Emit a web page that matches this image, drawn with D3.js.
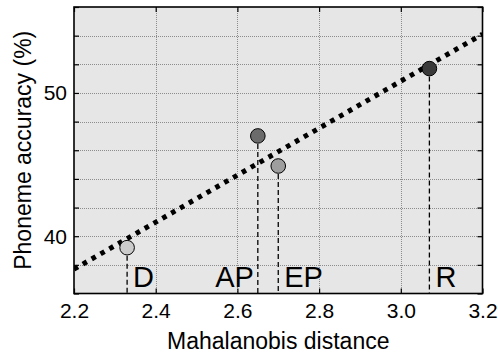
<!DOCTYPE html>
<html>
<head>
<meta charset="utf-8">
<script src="https://cdn.jsdelivr.net/npm/d3@7"></script>
<style>
  html, body { margin: 0; padding: 0; background: #fff; }
  svg { display: block; }
  text { font-family: "Liberation Sans", Arial, Helvetica, sans-serif; fill: #000; }
</style>
</head>
<body>
<svg id="chart" width="498" height="353"></svg>
<script>
// Conditions and their measured values
const conditions = ["D", "AP", "EP", "R"];
const mahalanobis = [2.33, 2.65, 2.70, 3.07];
const accuracy = [39.2, 47.0, 44.9, 51.7];
const markerFill = ["#cbcbcb", "#6b6b6b", "#9e9e9e", "#3a3a3a"];

// Least-squares trend line, given by its two end points
const trendX = [2.2, 3.2];
const trendY = [37.7, 54.1];

// Axis ticks
const xTicks = [2.2, 2.4, 2.6, 2.8, 3.0, 3.2];
const yTicks = [36, 38, 40, 42, 44, 46, 48, 50, 52, 54, 56];
const yLabelled = [40, 50];

const svg = d3.select("#chart");
const plotLeft = 74, plotRight = 482.5, plotTop = 7, plotBottom = 293.5;

const x = d3.scaleLinear().domain([2.2, 3.2]).range([plotLeft, plotRight]);
const y = d3.scaleLinear().domain([36, 56]).range([plotBottom, plotTop]);

// Plot background
svg.append("rect")
  .attr("x", plotLeft).attr("y", plotTop)
  .attr("width", plotRight - plotLeft).attr("height", plotBottom - plotTop)
  .attr("fill", "#e6e6e6");

// Dotted grid
const grid = svg.append("g").attr("stroke", "#8c8c8c").attr("stroke-width", 1)
  .attr("stroke-dasharray", "1,1");
grid.selectAll(".gx").data(xTicks.slice(1, -1)).join("line")
  .attr("x1", d => Math.round(x(d)) + 0.5).attr("x2", d => Math.round(x(d)) + 0.5)
  .attr("y1", plotTop).attr("y2", plotBottom);
grid.selectAll(".gy").data(yTicks.slice(1, -1)).join("line")
  .attr("y1", d => Math.round(y(d)) + 0.5).attr("y2", d => Math.round(y(d)) + 0.5)
  .attr("x1", plotLeft).attr("x2", plotRight);

// Clip for the data layer
svg.append("clipPath").attr("id", "plotClip")
  .append("rect").attr("x", plotLeft).attr("y", plotTop)
  .attr("width", plotRight - plotLeft).attr("height", plotBottom - plotTop);
const plot = svg.append("g").attr("clip-path", "url(#plotClip)");

// Dashed drop lines from each point down to the axis
plot.selectAll(".drop").data(conditions).join("line")
  .attr("x1", (d, i) => x(mahalanobis[i])).attr("x2", (d, i) => x(mahalanobis[i]))
  .attr("y1", (d, i) => y(accuracy[i])).attr("y2", plotBottom)
  .attr("stroke", "#000").attr("stroke-width", 1.3)
  .attr("stroke-dasharray", "5,3");

// Trend line
plot.append("line")
  .attr("x1", x(trendX[0])).attr("y1", y(trendY[0]))
  .attr("x2", x(trendX[1])).attr("y2", y(trendY[1]))
  .attr("stroke", "#000").attr("stroke-width", 5)
  .attr("stroke-dasharray", "4.6,5.6");

// Markers
plot.selectAll(".pt").data(conditions).join("circle")
  .attr("cx", (d, i) => x(mahalanobis[i]))
  .attr("cy", (d, i) => y(accuracy[i]))
  .attr("r", 7.3)
  .attr("fill", (d, i) => markerFill[i])
  .attr("stroke", "#000").attr("stroke-width", 1);

// Condition labels next to the drop lines
plot.selectAll(".lab").data(conditions).join("text")
  .attr("x", (d, i) => d === "AP" ? x(mahalanobis[i]) - 4 : x(mahalanobis[i]) + 6)
  .attr("y", plotBottom - 7)
  .attr("text-anchor", d => d === "AP" ? "end" : "start")
  .attr("font-size", 29)
  .text(d => d);

// Axes with inward ticks on all four sides
const xAxis = d3.axisBottom(x).tickValues(xTicks).tickSize(-5).tickPadding(10)
  .tickFormat(d3.format(".1f"));
const yAxis = d3.axisLeft(y).tickValues(yTicks).tickSize(-5).tickPadding(7)
  .tickFormat(d => yLabelled.includes(d) ? d : "");

const gx = svg.append("g").attr("transform", `translate(0,${plotBottom})`).call(xAxis);
const gy = svg.append("g").attr("transform", `translate(${plotLeft},0)`).call(yAxis);
const gxTop = svg.append("g").attr("transform", `translate(0,${plotTop})`)
  .call(d3.axisTop(x).tickValues(xTicks).tickSize(-5).tickFormat(""));
const gyRight = svg.append("g").attr("transform", `translate(${plotRight},0)`)
  .call(d3.axisRight(y).tickValues(yTicks).tickSize(-5).tickFormat(""));

[gx, gy, gxTop, gyRight].forEach(g => {
  g.select(".domain").remove();
  g.selectAll(".tick line").attr("stroke", "#000").attr("stroke-width", 1.2);
});
gx.selectAll(".tick text").attr("font-size", 21).attr("dy", "0.71em")
  .attr("font-family", "Liberation Sans, Arial, sans-serif").attr("fill", "#000");
gy.selectAll(".tick text").attr("font-size", 21).attr("dy", "0.33em")
  .attr("font-family", "Liberation Sans, Arial, sans-serif").attr("fill", "#000");

// Frame
svg.append("rect")
  .attr("x", plotLeft).attr("y", plotTop)
  .attr("width", plotRight - plotLeft).attr("height", plotBottom - plotTop)
  .attr("fill", "none").attr("stroke", "#000").attr("stroke-width", 1.6);

// Axis titles
svg.append("text")
  .attr("x", (plotLeft + plotRight) / 2).attr("y", 349)
  .attr("text-anchor", "middle").attr("font-size", 23)
  .text("Mahalanobis distance");
svg.append("text")
  .attr("transform", `translate(31,${(plotTop + plotBottom) / 2}) rotate(-90)`)
  .attr("text-anchor", "middle").attr("font-size", 23)
  .text("Phoneme accuracy (%)");
</script>
</body>
</html>
